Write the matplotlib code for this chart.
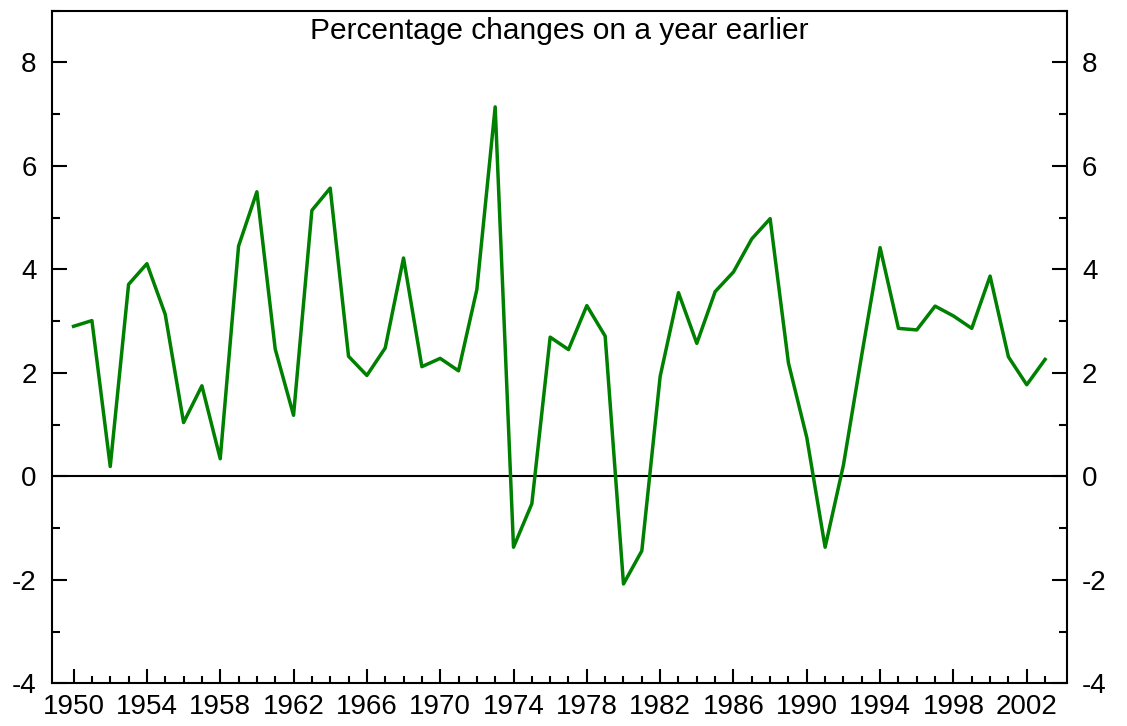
import matplotlib
matplotlib.use("Agg")
import matplotlib.pyplot as plt
from matplotlib.ticker import MultipleLocator, FixedLocator

plt.rcParams["font.family"] = ["Liberation Sans", "DejaVu Sans"]
plt.rcParams["axes.unicode_minus"] = False

years = list(range(1950, 2004))
pct_change = [
    2.90, 3.01, 0.19, 3.71, 4.11, 3.13, 1.04, 1.75, 0.34, 4.45,
    5.50, 2.46, 1.18, 5.14, 5.57, 2.32, 1.95, 2.48, 4.22, 2.12,
    2.28, 2.04, 3.61, 7.14, -1.37, -0.53, 2.69, 2.45, 3.30, 2.71,
    -2.08, -1.44, 1.93, 3.55, 2.57, 3.57, 3.95, 4.59, 4.98, 2.19,
    0.75, -1.37, 0.22, 2.35, 4.42, 2.86, 2.83, 3.29, 3.10, 2.86,
    3.87, 2.31, 1.77, 2.26,
]
title = "Percentage changes on a year earlier"

fig = plt.figure(figsize=(11.27, 7.26), dpi=100)
ax = fig.add_axes([0.0461, 0.0588, 0.9004, 0.9265])

ax.axhline(0, color="black", linewidth=1.5, zorder=1)
ax.plot(years, pct_change, color="#008000", linewidth=2.5, zorder=2)

ax.set_xlim(1948.82, 2004.18)
ax.set_ylim(-4, 9)

ax.set_xticks(range(1950, 2004, 4))
ax.xaxis.set_minor_locator(FixedLocator(years))
ax.set_yticks(range(-4, 9, 2))
ax.yaxis.set_minor_locator(MultipleLocator(1))

for s in ax.spines.values():
    s.set_linewidth(1.5)

ax.tick_params(axis="both", which="both", direction="in", width=1.5,
               labelsize=20, colors="black")
ax.tick_params(axis="y", which="major", length=11, pad=11,
               left=True, right=True, labelleft=True, labelright=True)
ax.tick_params(axis="y", which="minor", length=6, left=True, right=True)
ax.tick_params(axis="x", which="major", length=10, pad=8, top=False)
ax.tick_params(axis="x", which="minor", length=5, top=False)

ax.text(0.5, 0.958, title, transform=ax.transAxes, ha="center",
        va="baseline", fontsize=21.5)

fig.savefig("out.png", dpi=100)
